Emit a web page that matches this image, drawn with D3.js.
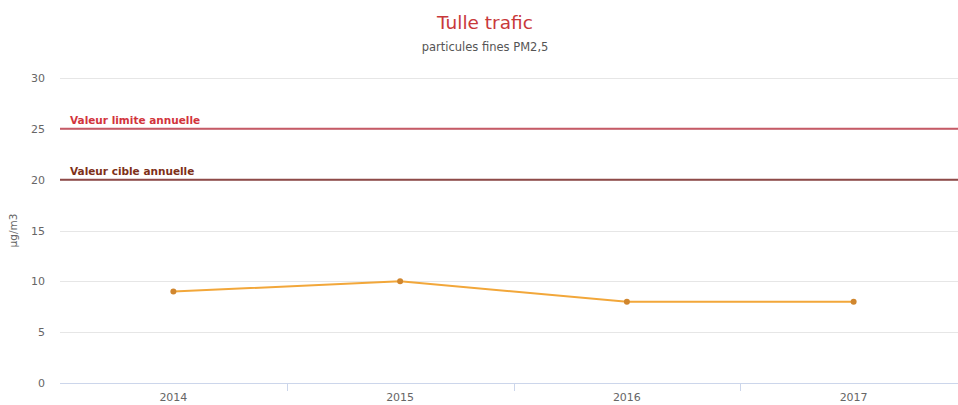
<!DOCTYPE html>
<html>
<head>
<meta charset="utf-8">
<script src="https://cdn.jsdelivr.net/npm/d3@7"></script>
<style>
  html, body { margin: 0; padding: 0; background: #fff; }
  svg { display: block; font-family: "DejaVu Sans", "Liberation Sans", sans-serif; }
</style>
</head>
<body>
<svg id="chart" width="958" height="405"></svg>
<script>
// Annual PM2.5 means at the Tulle traffic station
const years = ["2014", "2015", "2016", "2017"];
const pm25 = [9, 10, 8, 8];
const yTicks = [0, 5, 10, 15, 20, 25, 30];

// Regulatory reference lines
const refValues = [25, 20];
const refLabels = ["Valeur limite annuelle", "Valeur cible annuelle"];
const refColors = ["#c65a66", "#8e4a48"];
const refTextColors = ["#d2343c", "#7e3018"];

const svg = d3.select("#chart");
const margin = { left: 60, right: -9, top: 78, bottom: 22 };
const W = 958, H = 405;
const plotRight = W - margin.right;
const plotBottom = H - margin.bottom;

const x = d3.scaleBand().domain(years).range([margin.left, plotRight]);
const y = d3.scaleLinear().domain([0, 30]).range([plotBottom, margin.top]);

// Title and subtitle
svg.append("text")
  .attr("x", 485).attr("y", 29)
  .attr("text-anchor", "middle")
  .attr("fill", "#c8383a")
  .attr("font-size", 18.5)
  .text("Tulle trafic");
svg.append("text")
  .attr("x", 485).attr("y", 51)
  .attr("text-anchor", "middle")
  .attr("fill", "#555")
  .attr("font-size", 11.5)
  .text("particules fines PM2,5");

// Horizontal grid
svg.append("g")
  .selectAll("line")
  .data(yTicks)
  .join("line")
  .attr("x1", margin.left).attr("x2", plotRight)
  .attr("y1", d => Math.round(y(d)) + 0.5).attr("y2", d => Math.round(y(d)) + 0.5)
  .attr("stroke", "#e6e6e6");

// Y axis labels
const yAxis = svg.append("g")
  .attr("transform", `translate(${margin.left - 15},0)`)
  .call(d3.axisLeft(y).tickValues(yTicks).tickSize(0).tickPadding(0));
yAxis.select(".domain").remove();
yAxis.selectAll("text").attr("fill", "#666").attr("font-size", 11)
  .attr("font-family", "DejaVu Sans, sans-serif");

// Y axis title
svg.append("text")
  .attr("transform", `translate(17,${(margin.top + plotBottom) / 2}) rotate(-90)`)
  .attr("text-anchor", "middle")
  .attr("fill", "#666")
  .attr("font-size", 10.5)
  .text("µg/m3");

// X axis: baseline, ticks on category boundaries, labels at centres
const xg = svg.append("g");
xg.append("line")
  .attr("x1", margin.left).attr("x2", plotRight)
  .attr("y1", plotBottom + 0.5).attr("y2", plotBottom + 0.5)
  .attr("stroke", "#ccd6eb");
xg.selectAll("line.tick")
  .data(years.slice(1))
  .join("line")
  .attr("class", "tick")
  .attr("x1", d => Math.round(x(d)) + 0.5).attr("x2", d => Math.round(x(d)) + 0.5)
  .attr("y1", plotBottom).attr("y2", plotBottom + 8)
  .attr("stroke", "#ccd6eb");
xg.selectAll("text")
  .data(years)
  .join("text")
  .attr("x", d => x(d) + x.bandwidth() / 2)
  .attr("y", plotBottom + 18)
  .attr("text-anchor", "middle")
  .attr("fill", "#666")
  .attr("font-size", 11)
  .text(d => d);

// Reference lines and their labels
refValues.forEach((v, i) => {
  svg.append("line")
    .attr("x1", margin.left).attr("x2", plotRight)
    .attr("y1", y(v)).attr("y2", y(v))
    .attr("stroke", refColors[i])
    .attr("stroke-width", 2);
  svg.append("text")
    .attr("x", margin.left + 10)
    .attr("y", y(v) - 5)
    .attr("fill", refTextColors[i])
    .attr("font-size", 10.5)
    .attr("font-weight", "bold")
    .text(refLabels[i]);
});

// Series line and markers
const cx = d => x(d) + x.bandwidth() / 2;
const line = d3.line().x((d, i) => cx(years[i])).y(d => y(d));
svg.append("path")
  .datum(pm25)
  .attr("d", line)
  .attr("fill", "none")
  .attr("stroke", "#f2a73a")
  .attr("stroke-width", 2);
svg.append("g")
  .selectAll("circle")
  .data(pm25)
  .join("circle")
  .attr("cx", (d, i) => cx(years[i]))
  .attr("cy", d => y(d))
  .attr("r", 3)
  .attr("fill", "#d0862e");
</script>
</body>
</html>
